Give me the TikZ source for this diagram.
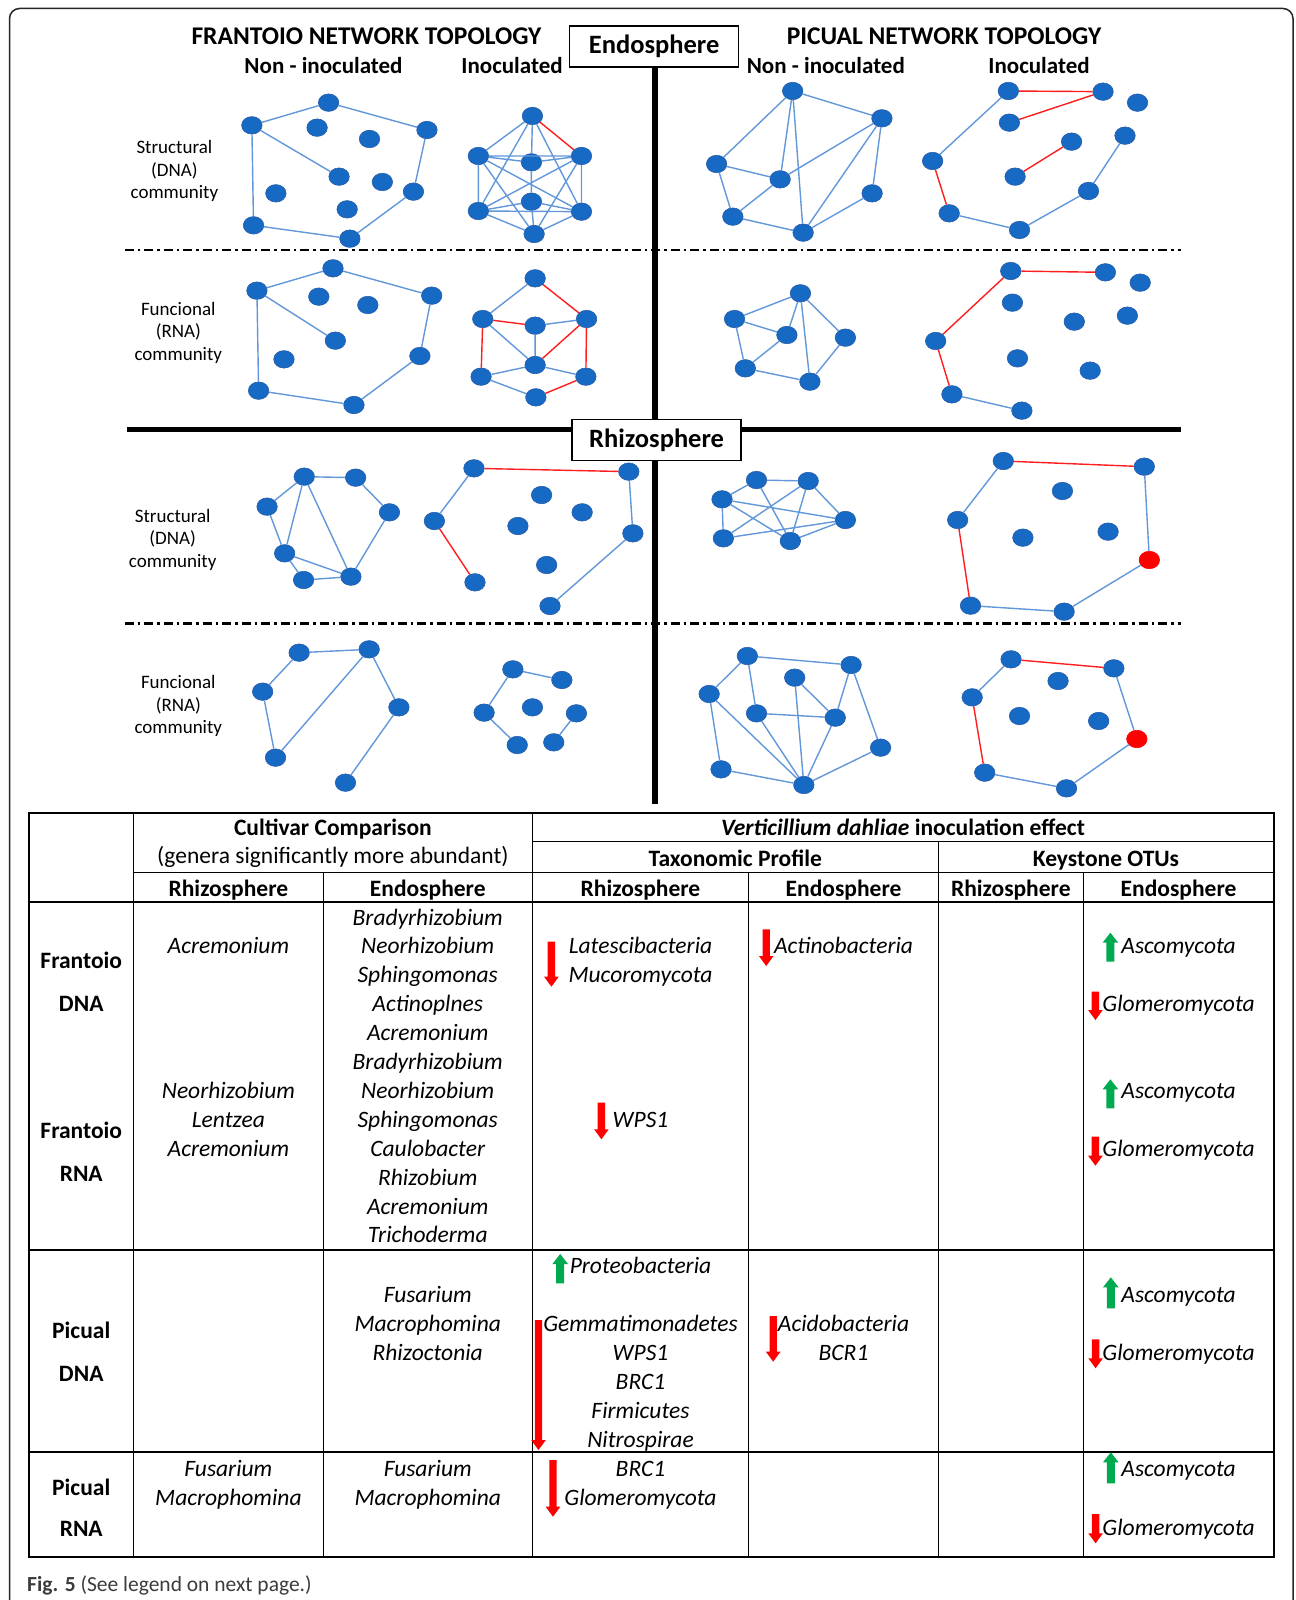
\documentclass[tikz,border=0pt]{standalone}
\usepackage{fontspec}
\setmainfont{Carlito}
\usetikzlibrary{shapes.geometric}
\definecolor{nodeblue}{RGB}{23,106,196}
\definecolor{nodeline}{RGB}{40,92,170}
\definecolor{edgeblue}{RGB}{98,152,218}
\definecolor{edgered}{RGB}{255,30,30}
\definecolor{arrred}{RGB}{255,0,0}
\definecolor{arrgreen}{RGB}{0,170,80}
\definecolor{capgray}{RGB}{60,60,60}
\newcommand{\myTab}{\fontsize{23.5}{29}\selectfont}
\newcommand{\myDownArr}[3]{\fill[arrred] (#1-3.7,#2) -- (#1+3.7,#2) -- (#1+3.7,#3-10) -- (#1+7.3,#3-10) -- (#1,#3) -- (#1-7.3,#3-10) -- (#1-3.7,#3-10) -- cycle;}
\newcommand{\myUpArr}[3]{\fill[arrgreen] (#1-4,#3) -- (#1+4,#3) -- (#1+4,#2+10) -- (#1+7.8,#2+10) -- (#1,#2) -- (#1-7.8,#2+10) -- (#1-4,#2+10) -- cycle;}
\begin{document}
\begin{tikzpicture}[x=1pt,y=-1pt,
  nd/.style={ellipse, fill=nodeblue, draw=nodeline, line width=0.6pt, minimum width=20.5pt, minimum height=17.5pt, inner sep=0pt},
  rnd/.style={nd, fill=red, draw=red},
  eb/.style={draw=edgeblue, line width=1.4pt},
  er/.style={draw=edgered, line width=1.4pt},
  ttl/.style={anchor=base, inner sep=0pt, font=\bfseries\fontsize{25.5}{30}\selectfont},
  sub/.style={anchor=base, inner sep=0pt, font=\bfseries\fontsize{23}{27}\selectfont},
  rowlab/.style={align=center, inner sep=0pt, font=\fontsize{19}{22.5}\selectfont},
  boxlab/.style={draw, line width=1.3pt, fill=white, minimum width=169pt, minimum height=41pt, inner sep=0pt, font=\bfseries\fontsize{26.5}{30}\selectfont},
  divider/.style={line width=6pt},
  dashdiv/.style={line width=2.5pt, dash pattern=on 9pt off 4pt on 2.5pt off 4pt},
  hd/.style={anchor=base, inner sep=0pt, font=\myTab\bfseries},
  hn/.style={anchor=base, inner sep=0pt, font=\myTab},
  it/.style={anchor=base, inner sep=0pt, font=\myTab\itshape},
  tline/.style={line width=1pt},
  tthick/.style={line width=2pt}
]
\useasboundingbox (0,0) rectangle (1295,1600);
\fill[white] (0,0) rectangle (1295,1600);
% outer frame
\draw[line width=1.5pt, black!85, rounded corners=10pt] (9.5,1610) -- (9.5,8.5) -- (1293,8.5) -- (1293,1610);

% dash-dot separators
\coordinate (dd1a) at (124.5,250); \coordinate (dd1b) at (1180.7,250);
\coordinate (dd2a) at (124.5,623.4); \coordinate (dd2b) at (1180.7,623.4);
\draw[dashdiv] (dd1a) -- (dd1b);
\draw[dashdiv] (dd2a) -- (dd2b);
% horizontal thick line
\coordinate (hl1) at (127.4,429.5); \coordinate (hl2) at (1180.7,429.5);
\draw[line width=5.5pt] (hl1) -- (hl2);
% vertical thick line
\coordinate (vl1) at (655,67); \coordinate (vl2) at (655,425);
\coordinate (vl3) at (655,455); \coordinate (vl4) at (655,804);
\draw[divider] (vl1) -- (vl2);
\draw[divider] (vl3) -- (vl4);

\node[boxlab] (endo) at (654.1,46.65) {Endosphere};
\node[boxlab] (rhizo) at (656.6,440.3) {Rhizosphere};

% titles
\node[ttl] (ftitle) at (366.5,45) {FRANTOIO NETWORK TOPOLOGY};
\node[ttl] (ptitle) at (944,45) {PICUAL NETWORK TOPOLOGY};
\node[sub] (fnon) at (323.5,74) {Non - inoculated};
\node[sub] (fino) at (512,74) {Inoculated};
\node[sub] (pnon) at (825.8,74) {Non - inoculated};
\node[sub] (pino) at (1039,74) {Inoculated};

% row labels
\node[rowlab] (lab1) at (174.4,171.2) {Structural\\(DNA)\\community};
\node[rowlab] (lab2) at (178.3,332.9) {Funcional\\(RNA)\\community};
\node[rowlab] (lab3) at (172.7,539.6) {Structural\\(DNA)\\community};
\node[rowlab] (lab4) at (178.3,706.2) {Funcional\\(RNA)\\community};

% ---------- Frantoio endosphere DNA ----------
\begin{scope}[shift={(120pt,-20pt)},x=0.33807pt,y=-0.33333pt]
\node[nd] (fa1) at (617,248) {};
\node[nd] (fa2) at (390,316) {};
\node[nd] (fa3) at (583,323) {};
\node[nd] (fa4) at (738,357) {};
\node[nd] (fa5) at (908,330) {};
\node[nd] (fa6) at (648,470) {};
\node[nd] (fa7) at (776,486) {};
\node[nd] (fa8) at (461,520) {};
\node[nd] (fa9) at (868,515) {};
\node[nd] (fa10) at (672,568) {};
\node[nd] (fa11) at (395,616) {};
\node[nd] (fa12) at (680,656) {};
\draw[eb] (fa1)--(fa2) (fa1)--(fa5) (fa2)--(fa6) (fa2)--(fa11) (fa5)--(fa9) (fa9)--(fa12) (fa11)--(fa12);
\node[nd] (fb1) at (1220,288) {};
\node[nd] (fb2) at (1060,408) {};
\node[nd] (fb3) at (1217,427) {};
\node[nd] (fb4) at (1365,408) {};
\node[nd] (fb5) at (1217,545) {};
\node[nd] (fb6) at (1060,573) {};
\node[nd] (fb7) at (1365,575) {};
\node[nd] (fb8) at (1225,642) {};
\draw[eb] (fb1)--(fb2) (fb1)--(fb3) (fb1)--(fb6) (fb1)--(fb7) (fb2)--(fb4) (fb2)--(fb3) (fb3)--(fb4)
  (fb2)--(fb6) (fb4)--(fb7) (fb2)--(fb8) (fb4)--(fb8) (fb2)--(fb7) (fb4)--(fb6) (fb3)--(fb5)
  (fb6)--(fb5) (fb5)--(fb7) (fb6)--(fb7) (fb6)--(fb8) (fb7)--(fb8) (fb5)--(fb8);
\draw[er] (fb1)--(fb4);
\end{scope}

% ---------- Picual endosphere DNA ----------
\begin{scope}[shift={(650pt,-20pt)},x=0.33807pt,y=-0.33333pt]
\node[nd] (pa1) at (422,213) {};
\node[nd] (pa2) at (686,295) {};
\node[nd] (pa3) at (197,432) {};
\node[nd] (pa4) at (385,478) {};
\node[nd] (pa5) at (657,520) {};
\node[nd] (pa6) at (245,590) {};
\node[nd] (pa7) at (453,638) {};
\draw[eb] (pa1)--(pa3) (pa1)--(pa4) (pa1)--(pa7) (pa1)--(pa2) (pa2)--(pa4) (pa2)--(pa7) (pa2)--(pa5)
  (pa3)--(pa4) (pa3)--(pa6) (pa4)--(pa6) (pa6)--(pa7) (pa7)--(pa5);
\node[nd] (pb1) at (1060,213) {};
\node[nd] (pb2) at (1340,215) {};
\node[nd] (pb3) at (1442,248) {};
\node[nd] (pb4) at (1063,308) {};
\node[nd] (pb5) at (1247,365) {};
\node[nd] (pb6) at (1405,347) {};
\node[nd] (pb7) at (836,423) {};
\node[nd] (pb8) at (1080,470) {};
\node[nd] (pb9) at (1297,513) {};
\node[nd] (pb10) at (885,580) {};
\node[nd] (pb11) at (1093,630) {};
\draw[er] (pb1)--(pb2) (pb4)--(pb2) (pb5)--(pb8) (pb7)--(pb10);
\draw[eb] (pb7)--(pb1) (pb10)--(pb11) (pb11)--(pb9) (pb9)--(pb6);
\end{scope}

% ---------- Frantoio endosphere RNA ----------
\begin{scope}[shift={(120pt,-245pt)},x=0.33807pt,y=-0.33333pt]
\node[nd] (fc1) at (630,70) {};
\node[nd] (fc2) at (405,137) {};
\node[nd] (fc3) at (588,155) {};
\node[nd] (fc4) at (733,180) {};
\node[nd] (fc5) at (922,152) {};
\node[nd] (fc6) at (637,287) {};
\node[nd] (fc7) at (485,343) {};
\node[nd] (fc8) at (887,333) {};
\node[nd] (fc9) at (410,437) {};
\node[nd] (fc10) at (692,480) {};
\draw[eb] (fc1)--(fc2) (fc1)--(fc5) (fc2)--(fc6) (fc2)--(fc9) (fc5)--(fc8) (fc8)--(fc10) (fc9)--(fc10);
\node[nd] (fd1) at (1228,100) {};
\node[nd] (fd2) at (1073,222) {};
\node[nd] (fd3) at (1228,242) {};
\node[nd] (fd4) at (1380,222) {};
\node[nd] (fd5) at (1228,360) {};
\node[nd] (fd6) at (1068,395) {};
\node[nd] (fd7) at (1378,395) {};
\node[nd] (fd8) at (1230,457) {};
\draw[eb] (fd1)--(fd2) (fd3)--(fd4) (fd2)--(fd5) (fd3)--(fd5) (fd6)--(fd5) (fd5)--(fd7) (fd6)--(fd8);
\draw[er] (fd1)--(fd4) (fd2)--(fd3) (fd2)--(fd6) (fd4)--(fd5) (fd4)--(fd7) (fd8)--(fd7);
\end{scope}

% ---------- Picual endosphere RNA ----------
\begin{scope}[shift={(650pt,-245pt)},x=0.33807pt,y=-0.33333pt]
\node[nd] (pc1) at (445,145) {};
\node[nd] (pc2) at (250,222) {};
\node[nd] (pc3) at (405,270) {};
\node[nd] (pc4) at (578,278) {};
\node[nd] (pc5) at (282,370) {};
\node[nd] (pc6) at (473,410) {};
\draw[eb] (pc1)--(pc2) (pc1)--(pc3) (pc1)--(pc6) (pc1)--(pc4) (pc2)--(pc3) (pc2)--(pc5) (pc3)--(pc5) (pc5)--(pc6) (pc4)--(pc6);
\node[nd] (pd1) at (1067,78) {};
\node[nd] (pd2) at (1347,82) {};
\node[nd] (pd3) at (1450,113) {};
\node[nd] (pd4) at (1072,173) {};
\node[nd] (pd5) at (1255,230) {};
\node[nd] (pd6) at (1412,212) {};
\node[nd] (pd7) at (845,288) {};
\node[nd] (pd8) at (1087,340) {};
\node[nd] (pd9) at (1302,377) {};
\node[nd] (pd10) at (893,448) {};
\node[nd] (pd11) at (1100,497) {};
\draw[er] (pd1)--(pd2) (pd1)--(pd7) (pd7)--(pd10);
\draw[eb] (pd10)--(pd11);
\end{scope}

% ---------- Frantoio rhizosphere DNA ----------
\begin{scope}[shift={(120pt,-420pt)},x=0.33807pt,y=-0.33333pt]
\node[nd] (fe1) at (545,170) {};
\node[nd] (fe2) at (697,173) {};
\node[nd] (fe3) at (435,260) {};
\node[nd] (fe4) at (797,277) {};
\node[nd] (fe5) at (487,400) {};
\node[nd] (fe6) at (543,480) {};
\node[nd] (fe7) at (683,470) {};
\draw[eb] (fe1)--(fe2) (fe1)--(fe3) (fe1)--(fe5) (fe1)--(fe7) (fe2)--(fe4) (fe4)--(fe7) (fe3)--(fe5) (fe5)--(fe6) (fe5)--(fe7) (fe6)--(fe7);
\node[nd] (ff1) at (1047,145) {};
\node[nd] (ff2) at (1505,155) {};
\node[nd] (ff3) at (1247,225) {};
\node[nd] (ff4) at (1367,277) {};
\node[nd] (ff5) at (930,303) {};
\node[nd] (ff6) at (1177,318) {};
\node[nd] (ff7) at (1517,340) {};
\node[nd] (ff8) at (1262,435) {};
\node[nd] (ff9) at (1050,487) {};
\node[nd] (ff10) at (1272,558) {};
\draw[er] (ff1)--(ff2) (ff5)--(ff9);
\draw[eb] (ff1)--(ff5) (ff2)--(ff7) (ff7)--(ff10);
\end{scope}

% ---------- Picual rhizosphere DNA ----------
\begin{scope}[shift={(650pt,-420pt)},x=0.33807pt,y=-0.33333pt]
\node[nd] (pe1) at (315,180) {};
\node[nd] (pe2) at (468,183) {};
\node[nd] (pe3) at (213,238) {};
\node[nd] (pe4) at (578,300) {};
\node[nd] (pe5) at (217,355) {};
\node[nd] (pe6) at (415,363) {};
\draw[eb] (pe1)--(pe2) (pe1)--(pe3) (pe3)--(pe5) (pe3)--(pe4) (pe3)--(pe6) (pe1)--(pe6) (pe2)--(pe5) (pe2)--(pe6) (pe2)--(pe4) (pe5)--(pe4) (pe6)--(pe4);
\node[nd] (pf1) at (1045,123) {};
\node[nd] (pf2) at (1462,140) {};
\node[nd] (pf3) at (1220,213) {};
\node[nd] (pf4) at (910,300) {};
\node[nd] (pf5) at (1103,353) {};
\node[nd] (pf6) at (1355,335) {};
\node[rnd] (pf7) at (1477,420) {};
\node[nd] (pf8) at (948,557) {};
\node[nd] (pf9) at (1225,575) {};
\draw[er] (pf1)--(pf2) (pf4)--(pf8);
\draw[eb] (pf1)--(pf4) (pf8)--(pf9) (pf9)--(pf7) (pf7)--(pf2);
\end{scope}

% ---------- Frantoio rhizosphere RNA ----------
\begin{scope}[shift={(120pt,-620pt)},x=0.33807pt,y=-0.33333pt]
\node[nd] (fg1) at (530,98) {};
\node[nd] (fg2) at (737,88) {};
\node[nd] (fg3) at (422,215) {};
\node[nd] (fg4) at (825,262) {};
\node[nd] (fg5) at (460,413) {};
\node[nd] (fg6) at (667,488) {};
\draw[eb] (fg1)--(fg2) (fg1)--(fg3) (fg3)--(fg5) (fg5)--(fg2) (fg2)--(fg4) (fg4)--(fg6);
\node[nd] (fh1) at (1162,148) {};
\node[nd] (fh2) at (1307,180) {};
\node[nd] (fh3) at (1077,278) {};
\node[nd] (fh4) at (1220,262) {};
\node[nd] (fh5) at (1350,280) {};
\node[nd] (fh6) at (1175,375) {};
\node[nd] (fh7) at (1283,367) {};
\draw[eb] (fh1)--(fh2) (fh1)--(fh3) (fh3)--(fh6) (fh5)--(fh7);
\end{scope}

% ---------- Picual rhizosphere RNA ----------
\begin{scope}[shift={(650pt,-620pt)},x=0.33807pt,y=-0.33333pt]
\node[nd] (pg1) at (288,108) {};
\node[nd] (pg2) at (595,135) {};
\node[nd] (pg3) at (428,173) {};
\node[nd] (pg4) at (175,222) {};
\node[nd] (pg5) at (315,280) {};
\node[nd] (pg6) at (548,293) {};
\node[nd] (pg7) at (682,383) {};
\node[nd] (pg8) at (210,448) {};
\node[nd] (pg9) at (455,495) {};
\draw[eb] (pg1)--(pg2) (pg1)--(pg4) (pg1)--(pg5) (pg2)--(pg6) (pg2)--(pg7) (pg3)--(pg6) (pg3)--(pg9) (pg4)--(pg8) (pg4)--(pg9) (pg5)--(pg6) (pg5)--(pg9) (pg6)--(pg9) (pg8)--(pg9) (pg7)--(pg9);
\node[nd] (ph1) at (1068,118) {};
\node[nd] (ph2) at (1372,145) {};
\node[nd] (ph3) at (1207,183) {};
\node[nd] (ph4) at (953,232) {};
\node[nd] (ph5) at (1093,288) {};
\node[nd] (ph6) at (1327,303) {};
\node[rnd] (ph7) at (1440,357) {};
\node[nd] (ph8) at (990,458) {};
\node[nd] (ph9) at (1232,505) {};
\draw[er] (ph1)--(ph2) (ph4)--(ph8);
\draw[eb] (ph1)--(ph4) (ph8)--(ph9) (ph9)--(ph7) (ph7)--(ph2);
\end{scope}

% ================= TABLE =================
\draw[tline] (133.5,812.7) -- (133.5,1556.7);
\draw[tline] (323.3,872.7) -- (323.3,1556.7);
\draw[line width=1.3pt] (532.2,812.7) -- (532.2,1556.7);
\draw[tline] (748.8,872.7) -- (748.8,1556.7);
\draw[tline] (938.3,841.7) -- (938.3,1556.7);
\draw[tline] (1083.3,872.7) -- (1083.3,1556.7);
\draw[line width=1.4pt] (532.2,841.7) -- (1273.8,841.7);
\draw[line width=1.4pt] (133.5,872.7) -- (1273.8,872.7);
\draw[tthick] (29,901.7) -- (1273.8,901.7);
\draw[tthick] (29,1250) -- (1273.8,1250);
\draw[tthick] (29,1452) -- (1273.8,1452);
\draw[tthick] (29,812.7) rectangle (1273.8,1556.7);

% headers
\node[hd] (h1) at (332.9,835) {Cultivar Comparison};
\node[hn] (h2) at (332.9,863.5) {(genera significantly more abundant)};
\node[hd] (h3) at (903,835) {\textit{Verticillium dahliae} inoculation effect};
\node[hd] (h4) at (735.3,866) {Taxonomic Profile};
\node[hd] (h5) at (1106,866) {Keystone OTUs};
\node[hd] (h6) at (228.4,896) {Rhizosphere};
\node[hd] (h7) at (427.75,896) {Endosphere};
\node[hd] (h8) at (640.5,896) {Rhizosphere};
\node[hd] (h9) at (843.55,896) {Endosphere};
\node[hd] (h10) at (1010.8,896) {Rhizosphere};
\node[hd] (h11) at (1178.55,896) {Endosphere};

% row labels
\node[hd] (r1a) at (81.25,968.3) {Frantoio};
\node[hd] (r1b) at (81.25,1011.7) {DNA};
\node[hd] (r2a) at (81.25,1138.3) {Frantoio};
\node[hd] (r2b) at (81.25,1181) {RNA};
\node[hd] (r3a) at (81.25,1338.3) {Picual};
\node[hd] (r3b) at (81.25,1381.7) {DNA};
\node[hd] (r4a) at (81.25,1495) {Picual};
\node[hd] (r4b) at (81.25,1536.7) {RNA};

% Frantoio rows
\node[it] (e1) at (427.75,925) {Bradyrhizobium};
\node[it] (e2) at (427.75,953.9) {Neorhizobium};
\node[it] (e3) at (427.75,982.8) {Sphingomonas};
\node[it] (e4) at (427.75,1011.7) {Actinoplnes};
\node[it] (e5) at (427.75,1040.6) {Acremonium};
\node[it] (e6) at (427.75,1069.5) {Bradyrhizobium};
\node[it] (e7) at (427.75,1098.4) {Neorhizobium};
\node[it] (e8) at (427.75,1127.3) {Sphingomonas};
\node[it] (e9) at (427.75,1156.2) {Caulobacter};
\node[it] (e10) at (427.75,1185.1) {Rhizobium};
\node[it] (e11) at (427.75,1214) {Acremonium};
\node[it] (e12) at (427.75,1242.9) {Trichoderma};
\node[it] (c1) at (228.4,953.9) {Acremonium};
\node[it] (c2) at (228.4,1098.4) {Neorhizobium};
\node[it] (c3) at (228.4,1127.3) {Lentzea};
\node[it] (c4) at (228.4,1156.2) {Acremonium};
\node[it] (t1) at (640.5,953.9) {Latescibacteria};
\node[it] (t2) at (640.5,982.8) {Mucoromycota};
\node[it] (t3) at (640.5,1127.3) {WPS1};
\node[it] (t4) at (843.55,953.9) {Actinobacteria};
\node[it] (k1) at (1178.55,953.9) {Ascomycota};
\node[it] (k2) at (1178.55,1011.7) {Glomeromycota};
\node[it] (k3) at (1178.55,1098.4) {Ascomycota};
\node[it] (k4) at (1178.55,1156.2) {Glomeromycota};

% Picual DNA
\node[it] (e13) at (427.75,1302.5) {Fusarium};
\node[it] (e14) at (427.75,1331.5) {Macrophomina};
\node[it] (e15) at (427.75,1360.5) {Rhizoctonia};
\node[it] (t5) at (640.5,1273.5) {Proteobacteria};
\node[it] (t6) at (640.5,1331.5) {Gemmatimonadetes};
\node[it] (t7) at (640.5,1360.5) {WPS1};
\node[it] (t8) at (640.5,1389.5) {BRC1};
\node[it] (t9) at (640.5,1418.5) {Firmicutes};
\node[it] (t10) at (640.5,1447.5) {Nitrospirae};
\node[it] (t11) at (843.55,1331.5) {Acidobacteria};
\node[it] (t12) at (843.55,1360.5) {BCR1};
\node[it] (k5) at (1178.55,1302.5) {Ascomycota};
\node[it] (k6) at (1178.55,1360.5) {Glomeromycota};

% Picual RNA
\node[it] (c5) at (228.4,1476.5) {Fusarium};
\node[it] (c6) at (228.4,1505.5) {Macrophomina};
\node[it] (e16) at (427.75,1476.5) {Fusarium};
\node[it] (e17) at (427.75,1505.5) {Macrophomina};
\node[it] (t13) at (640.5,1476.5) {BRC1};
\node[it] (t14) at (640.5,1505.5) {Glomeromycota};
\node[it] (k7) at (1178.55,1476.5) {Ascomycota};
\node[it] (k8) at (1178.55,1535) {Glomeromycota};

% arrows
\myDownArr{551.4}{941.7}{986.7}
\myDownArr{601.4}{1102.7}{1139.3}
\myDownArr{766.2}{929.3}{966}
\myDownArr{1095.4}{991.7}{1020}
\myDownArr{1095.4}{1136.7}{1165.7}
\myDownArr{538.5}{1320}{1450}
\myDownArr{773.2}{1316}{1361.7}
\myDownArr{1095.6}{1339.3}{1368.3}
\myDownArr{553}{1460}{1516.7}
\myDownArr{1095.6}{1514}{1543.3}
\myUpArr{1110.4}{932.7}{961.7}
\myUpArr{1110.4}{1079.3}{1108.3}
\myUpArr{560.2}{1254}{1283.3}
\myUpArr{1110.8}{1277.3}{1308.3}
\myUpArr{1110.8}{1452.3}{1483.3}

% caption
\node[anchor=base west, inner sep=0pt, font=\fontsize{21.5}{25}\selectfont, text=capgray] (cap) at (27,1591.5) {\textbf{Fig. 5} (See legend on next page.)};
\end{tikzpicture}
\end{document}
